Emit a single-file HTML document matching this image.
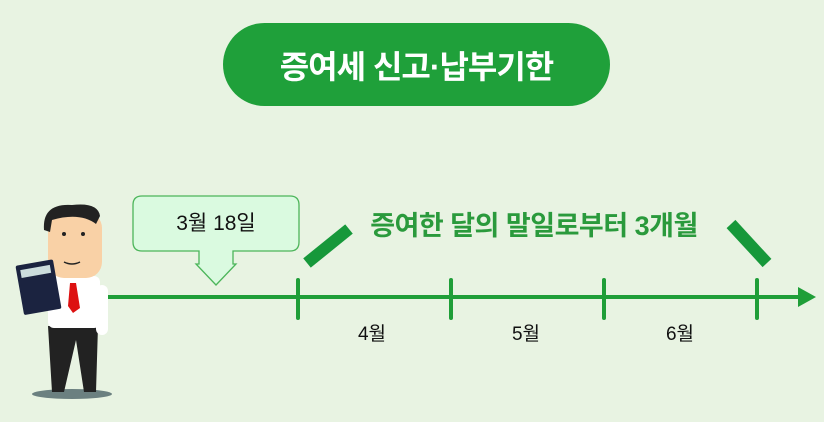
<!DOCTYPE html>
<html><head><meta charset="utf-8"><style>
body{margin:0;width:824px;height:422px;background:#e8f3e2;overflow:hidden;position:relative;font-family:"Liberation Sans","Noto Sans CJK KR",sans-serif}
.t{position:absolute;white-space:nowrap}
</style></head><body>
<div style="position:absolute;left:223px;top:23px;width:387px;height:83px;border-radius:42px;background:#1fa03a"></div>
<div class="t" style="left:223px;width:387px;top:42px;text-align:center;color:#fff;font-size:32px;font-weight:bold;letter-spacing:-1px">증여세 신고·납부기한</div>
<svg width="824" height="422" style="position:absolute;left:0;top:0">
<line x1="105" y1="297" x2="806" y2="297" stroke="#1f9e38" stroke-width="4"/>
<polygon points="798,287 816,297 798,307" fill="#1f9e38"/>
<g stroke="#1f9e38" stroke-width="4" stroke-linecap="round">
<line x1="298" y1="280" x2="298" y2="318"/><line x1="451" y1="280" x2="451" y2="318"/>
<line x1="604" y1="280" x2="604" y2="318"/><line x1="757" y1="280" x2="757" y2="318"/></g>
<g stroke="#16983a" stroke-width="12"><line x1="307" y1="263" x2="349" y2="229"/><line x1="731" y1="224" x2="767" y2="263"/></g>
<path d="M142,196 H290 Q299,196 299,205 V242 Q299,251 290,251 H233 V264 H236 L216,285 L196,264 H199 V251 H142 Q133,251 133,242 V205 Q133,196 142,196Z" fill="#dafae0" stroke="#4cb55a" stroke-width="1.3"/>
<!-- person -->
<ellipse cx="72" cy="394" rx="40" ry="5" fill="#6b8080"/>
<path d="M48,326 L98,326 L96,392 L84,392 L76,340 L64,392 L52,392Z" fill="#222"/>
<rect x="48" y="276" width="52" height="52" rx="6" fill="#fff"/>
<rect x="96" y="285" width="12" height="50" rx="6" fill="#fff"/>
<polygon points="70,283 76,283 80,308 73,313 68,306" fill="#d11"/>
<rect x="48" y="212" width="54" height="66" rx="16" fill="#f9d1a6"/>
<path d="M44,230 Q42,203 72,205 Q98,202 100,216 L96,224 Q80,212 52,220 L50,232Z" fill="#222"/>
<circle cx="64" cy="234" r="2" fill="#222"/><circle cx="83" cy="234" r="2" fill="#222"/>
<path d="M64,262 Q72,266 80,262" stroke="#222" stroke-width="1.5" fill="none"/>
<g transform="rotate(-10 40 290)"><rect x="20" y="262" width="38" height="50" rx="2" fill="#1b2340"/><rect x="24" y="267" width="30" height="8" fill="#cdd"/></g>
</svg>
<div class="t" style="left:133px;width:166px;top:207px;text-align:center;font-size:21px;color:#111">3월 18일</div>
<div class="t" style="left:334px;width:400px;top:204px;text-align:center;font-size:27px;font-weight:bold;color:#2a9a3c;letter-spacing:-0.5px">증여한 달의 말일로부터 3개월</div>
<div class="t" style="left:342px;width:60px;top:319px;text-align:center;font-size:19px;color:#111">4월</div>
<div class="t" style="left:496px;width:60px;top:319px;text-align:center;font-size:19px;color:#111">5월</div>
<div class="t" style="left:650px;width:60px;top:319px;text-align:center;font-size:19px;color:#111">6월</div>
</body></html>
